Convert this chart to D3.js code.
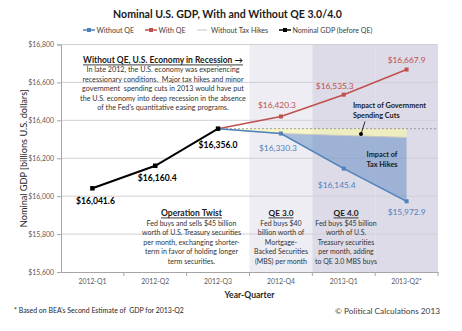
<!DOCTYPE html>
<html><head><meta charset="utf-8">
<script src="https://cdn.jsdelivr.net/npm/d3@7"></script>
<style>body{margin:0;background:#fff}svg{display:block}</style>
</head><body>
<script>
// ---- data ----
const categories = ["2012-Q1","2012-Q2","2012-Q3","2012-Q4","2013-Q1","2013-Q2*"];
const nominalGDP = [16041.6,16160.4,16356.0,null,null,null];
const withQE = [null,null,16356.0,16420.3,16535.3,16667.9];
const withoutQE = [null,null,16356.0,16330.3,16145.4,15972.9];
const withoutTaxHikes = [null,null,16356.0,16330.3,16320.0,16310.0];
const baselineLevel = 16356.0;
const yTicks = [15600,15800,16000,16200,16400,16600,16800];
const lightBandCats = ["2012-Q4"];
const darkBandCats = ["2013-Q1","2013-Q2*"];
const legendNames = ["Without QE","With QE","Without Tax Hikes","Nominal GDP (before QE)"];

// ---- setup ----
const W=462,H=331;
const FONT="Lato,'Liberation Sans',sans-serif";
const svg=d3.select("body").append("svg").attr("width",W).attr("height",H)
  .style("font-family",FONT);
const L=61,R=438,T=44.5,B=272;
const x=d3.scaleBand().domain(categories).range([L,R]);
const y=d3.scaleLinear().domain([15600,16800]).range([B,T]);
const cx=c=>x(c)+x.bandwidth()/2;
const RED="#c0504d",BLUE="#4f81bd";
// size text so that its widest line has the given width
function fit(sel,target){
  sel.style("font-size","10px");
  const w=d3.max(sel.nodes(),n=>n.getComputedTextLength());
  sel.style("font-size",(10*target/w).toFixed(2)+"px");
  return sel;
}

// bands
svg.selectAll("rect.lb").data(lightBandCats).join("rect")
  .attr("x",d=>x(d)).attr("y",T).attr("width",x.bandwidth()).attr("height",B-T).attr("fill","#eeedf3");
svg.selectAll("rect.db").data(darkBandCats).join("rect")
  .attr("x",d=>x(d)).attr("y",T).attr("width",x.bandwidth()).attr("height",B-T).attr("fill","#dddbe7");

// grid
svg.append("g").selectAll("line").data(yTicks.slice(1)).join("line")
  .attr("x1",L).attr("x2",R).attr("y1",d=>y(d)).attr("y2",d=>y(d))
  .attr("stroke","#d0d0d5").attr("stroke-width",1);

// areas
const idx=d3.range(categories.length);
const yellowIdx=idx.filter(i=>withoutTaxHikes[i]!=null);
svg.append("path").datum(yellowIdx)
  .attr("d",d3.area().x(i=>cx(categories[i])).y0(()=>y(baselineLevel)).y1(i=>y(withoutTaxHikes[i])))
  .attr("fill","#ffff99").attr("fill-opacity",0.5);
const blueIdx=idx.filter(i=>withoutQE[i]!=null);
svg.append("path").datum(blueIdx)
  .attr("d",d3.area().x(i=>cx(categories[i])).y0(i=>y(withoutTaxHikes[i])).y1(i=>y(withoutQE[i])))
  .attr("fill",BLUE).attr("fill-opacity",0.45);
svg.append("path").datum(yellowIdx)
  .attr("d",d3.line().x(i=>cx(categories[i])).y(i=>y(withoutTaxHikes[i])))
  .attr("fill","none").attr("stroke","#c8c8c8").attr("stroke-width",1);

// dotted baseline
svg.append("line").attr("x1",cx(categories[2])).attr("x2",R)
  .attr("y1",y(baselineLevel)).attr("y2",y(baselineLevel))
  .attr("stroke","#888").attr("stroke-width",0.8).attr("stroke-dasharray","2,2");

// axes
const yAxis=svg.append("g").attr("transform",`translate(${L},0)`)
  .call(d3.axisLeft(y).tickValues(yTicks).tickFormat(d3.format("$,")).tickSize(4).tickPadding(3));
yAxis.select(".domain").attr("stroke","#a6a6a6");
yAxis.selectAll(".tick line").attr("stroke","#a6a6a6");
yAxis.selectAll("text").attr("fill","#595959").style("font-family",FONT);
fit(yAxis.selectAll("text"),25.7);
const xAxis=svg.append("g").attr("transform",`translate(0,${B})`)
  .call(d3.axisBottom(x).tickSize(0).tickPadding(7));
xAxis.select(".domain").attr("stroke","#a6a6a6");
xAxis.selectAll("text").attr("fill","#595959").style("font-family",FONT);
fit(xAxis.selectAll("text").filter(d=>d==="2012-Q1"),28);
xAxis.selectAll("text").style("font-size",xAxis.selectAll("text").filter(d=>d==="2012-Q1").style("font-size"));
svg.append("g").selectAll("line").data(categories.slice(1).concat([null])).join("line")
  .attr("x1",d=>d?x(d):R).attr("x2",d=>d?x(d):R).attr("y1",B).attr("y2",B+4).attr("stroke","#a6a6a6");

// series
function drawSeries(vals,color,w){
  const pts=idx.filter(i=>vals[i]!=null);
  svg.append("path").datum(pts)
    .attr("d",d3.line().x(i=>cx(categories[i])).y(i=>y(vals[i])))
    .attr("fill","none").attr("stroke",color).attr("stroke-width",w);
  return pts;
}
const fmt=d3.format("$,.1f");
const wq=drawSeries(withQE,RED,1.5);
const woq=drawSeries(withoutQE,BLUE,1.5);
const ng=drawSeries(nominalGDP,"#000",2);
function markers(pts,vals,color,s){
  svg.append("g").selectAll("rect").data(pts).join("rect")
    .attr("x",i=>cx(categories[i])-s/2).attr("y",i=>y(vals[i])-s/2)
    .attr("width",s).attr("height",s).attr("fill",color);
}
markers(wq.slice(1),withQE,RED,4);
markers(woq.slice(1),withoutQE,BLUE,4);
markers(ng,nominalGDP,"#000",4.5);

// value labels
function labels(pts,vals,color,dx,dy,bold,tw){
  const s=svg.append("g").selectAll("text").data(pts).join("text")
    .attr("x",(i,k)=>cx(categories[i])+dx[k]).attr("y",(i,k)=>y(vals[i])+dy[k])
    .attr("text-anchor","middle").attr("dominant-baseline","central")
    .attr("fill",color).style("font-weight",bold?"bold":"normal")
    .text(i=>fmt(vals[i]));
  fit(s,tw);
}
labels(ng,nominalGDP,"#000",[3,2,0],[13,12,16],true,39);
labels(wq.slice(1),withQE,RED,[-4,-9,0],[-11.5,-9,-9.5],false,38);
labels(woq.slice(1),withoutQE,BLUE,[-3,-7,0],[14.5,16.5,11],false,38);

// title
fit(svg.append("text").attr("x",227.5).attr("y",13.5).attr("text-anchor","middle").attr("dominant-baseline","central")
  .style("font-weight","bold").attr("fill","#1a1a1a")
  .text("Nominal U.S. GDP, With and Without QE 3.0/4.0"),229);

// legend
const legX=[83,145,197,279], legCol=[BLUE,RED,"#d9d9d9","#000"], legMk=[true,true,false,true];
const lg=svg.append("g").selectAll("g").data(legendNames).join("g")
  .attr("transform",(d,i)=>`translate(${legX[i]},30)`);
lg.append("line").attr("x1",0).attr("x2",(d,i)=>i===2?10:12).attr("stroke",(d,i)=>legCol[i]).attr("stroke-width",1.5);
lg.each(function(d,i){ if(legMk[i]) d3.select(this).append("rect").attr("x",4).attr("y",-2).attr("width",4).attr("height",4).attr("fill",legCol[i]); });
const lgt=lg.append("text").attr("x",(d,i)=>i===2?14:13.5).attr("dominant-baseline","central").attr("fill","#404040").text(d=>d);
fit(lgt.filter(d=>d===legendNames[3]),80);
lgt.style("font-size",lgt.filter(d=>d===legendNames[3]).style("font-size"));

// axis titles
fit(svg.append("text").attr("transform",`translate(23,${(T+B)/2}) rotate(-90)`).attr("text-anchor","middle")
  .attr("dominant-baseline","central").attr("fill","#262626")
  .text("Nominal GDP [billions U.S. dollars]"),138);
fit(svg.append("text").attr("x",(L+R)/2).attr("y",295).attr("text-anchor","middle").attr("dominant-baseline","central")
  .style("font-weight","bold").attr("fill","#262626").text("Year-Quarter"),50);

// footnotes
fit(svg.append("text").attr("x",14).attr("y",310).attr("dominant-baseline","central").attr("xml:space","preserve")
  .attr("fill","#262626").text("* Based on BEA's Second Estimate of  GDP for 2013-Q2"),170);
fit(svg.append("text").attr("x",440).attr("y",310.5).attr("text-anchor","end").attr("dominant-baseline","central")
  .attr("fill","#404040").text("© Political Calculations 2013"),105);

// annotation blocks
function block(xc,y0,head,lines,hw,lw){
  const g=svg.append("g");
  fit(g.append("text").attr("x",xc).attr("y",y0).attr("text-anchor","middle").attr("dominant-baseline","central")
    .style("font-weight","bold").style("text-decoration","underline")
    .attr("fill","#1a1a1a").text(head),hw);
  fit(g.selectAll("text.l").data(lines).join("text").attr("class","l").attr("xml:space","preserve")
    .attr("x",xc).attr("y",(d,i)=>y0+10+i*9.5).attr("text-anchor","middle").attr("dominant-baseline","central")
    .attr("fill","#333").text(d=>d),lw);
}
block(163,59.5,"Without QE, U.S. Economy in Recession →",[
  "In late 2012, the U.S. economy was experiencing",
  "recessionary conditions.  Major tax hikes and minor",
  "government  spending cuts in 2013 would have put",
  "the U.S. economy into deep recession in the absence",
  "of the Fed's quantitative easing programs."],160,166);
block(191.5,212.5,"Operation Twist",[
  "Fed buys and sells $45 billion",
  "worth of U.S. Treasury securities",
  "per month, exchanging shorter-",
  "term in favor of holding longer",
  "term securities."],61,99);
block(281,212.5,"QE 3.0",[
  "Fed buys $40","billion worth of","Mortgage-","Backed Securities","(MBS) per month"],25,54);
block(346,212.5,"QE 4.0",[
  "Fed buys $45 billion","worth of U.S.","Treasury securities","per month, adding","to QE 3.0 MBS buys"],25,62);

// impact labels
const imp=svg.append("g").style("font-weight","bold").attr("fill","#1a1a1a");
const i1=imp.selectAll("text.a").data(["Impact of Government","Spending Cuts"]).join("text")
  .attr("x",353).attr("y",(d,i)=>105.5+i*10).attr("dominant-baseline","central").text(d=>d);
fit(i1,73);
const i2=imp.selectAll("text.b").data(["Impact of","Tax Hikes"]).join("text")
  .attr("x",382).attr("y",(d,i)=>154.5+i*9.5).attr("text-anchor","middle").attr("dominant-baseline","central").text(d=>d);
i2.style("font-size",i1.style("font-size"));
svg.append("line").attr("x1",365).attr("y1",121.5).attr("x2",361).attr("y2",134).attr("stroke","#000").attr("stroke-width",0.8);
svg.append("circle").attr("cx",361).attr("cy",134).attr("r",2).attr("fill","#000");
</script>
</body></html>
